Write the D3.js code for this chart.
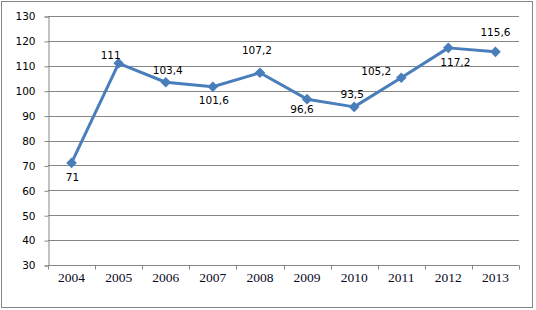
<!DOCTYPE html>
<html>
<head>
<meta charset="utf-8">
<script src="https://cdn.jsdelivr.net/npm/d3@7"></script>
<style>
  body { margin: 0; background: #fff; }
</style>
</head>
<body>
<div id="chart"></div>
<script>
    // Data
    var years = ["2004", "2005", "2006", "2007", "2008", "2009", "2010", "2011", "2012", "2013"];
    var values = [71, 111, 103.4, 101.6, 107.2, 96.6, 93.5, 105.2, 117.2, 115.6];
    var labels = ["71", "111", "103,4", "101,6", "107,2", "96,6", "93,5", "105,2", "117,2", "115,6"];
    var yTicks = [30, 40, 50, 60, 70, 80, 90, 100, 110, 120, 130];

    // label placement relative to the point (dx, dy of text centre)
    var labelOffsets = [[1, 14], [-8, -8], [2, -12], [1, 14], [-3, -22], [-5, 10], [-2, -13], [-25, -6], [7, 14], [0, -20]];

    var width = 536, height = 310;
    var margin = { left: 48, right: 17, top: 16, bottom: 45 };
    var sans = "'DejaVu Sans', Verdana, sans-serif";
    var serif = "'Liberation Serif', 'Times New Roman', serif";

    var svg = d3.select("#chart").append("svg")
        .attr("width", width)
        .attr("height", height);

    // outer frame
    svg.append("rect")
        .attr("x", 1.5).attr("y", 1.5)
        .attr("width", 531).attr("height", 306)
        .attr("fill", "#fff")
        .attr("stroke", "#868686");

    var x = d3.scaleBand()
        .domain(years)
        .range([margin.left, width - margin.right]);
    var y = d3.scaleLinear()
        .domain([30, 130])
        .range([height - margin.bottom, margin.top]);

    // gridlines
    svg.append("g").selectAll("line")
        .data(yTicks)
        .enter().append("line")
        .attr("x1", margin.left).attr("x2", width - margin.right)
        .attr("y1", function(d) { return Math.round(y(d)) + 0.5; })
        .attr("y2", function(d) { return Math.round(y(d)) + 0.5; })
        .attr("stroke", "#868686");

    // y axis
    var yAxis = svg.append("g")
        .attr("transform", "translate(" + (margin.left + 0.5) + ",0.5)")
        .call(d3.axisLeft(y).tickValues(yTicks).tickSize(4).tickPadding(9));
    yAxis.selectAll("path, line").attr("stroke", "#868686");
    yAxis.selectAll("text")
        .attr("font-family", null).attr("font-size", null)
        .style("font-family", sans).style("font-size", "10.5px").style("fill", "#000");

    // x axis, ticks between categories
    var xAxisY = Math.round(y(30)) + 0.5;
    var xg = svg.append("g");
    xg.append("line")
        .attr("x1", margin.left).attr("x2", width - margin.right)
        .attr("y1", xAxisY).attr("y2", xAxisY)
        .attr("stroke", "#868686");
    xg.selectAll(".tk")
        .data(years.concat(["end"]))
        .enter().append("line")
        .attr("class", "tk")
        .attr("x1", function(d, i) { return Math.round(margin.left + i * x.bandwidth()) + 0.5; })
        .attr("x2", function(d, i) { return Math.round(margin.left + i * x.bandwidth()) + 0.5; })
        .attr("y1", xAxisY).attr("y2", xAxisY + 4)
        .attr("stroke", "#868686");
    xg.selectAll("text")
        .data(years)
        .enter().append("text")
        .attr("x", function(d) { return x(d) + x.bandwidth() / 2; })
        .attr("y", xAxisY + 16)
        .attr("text-anchor", "middle")
        .style("font-family", serif)
        .style("font-size", "13.5px")
        .style("fill", "#0a0a28")
        .text(function(d) { return d; });

    // line
    var pts = years.map(function(d, i) { return { year: d, value: values[i], label: labels[i], off: labelOffsets[i] }; });
    var line = d3.line()
        .x(function(d) { return x(d.year) + x.bandwidth() / 2; })
        .y(function(d) { return y(d.value); });

    svg.append("path")
        .datum(pts)
        .attr("d", line)
        .attr("fill", "none")
        .attr("stroke", "#4a7ebb")
        .attr("stroke-width", 3)
        .attr("stroke-linejoin", "round");

    svg.append("g").selectAll("path")
        .data(pts)
        .enter().append("path")
        .attr("d", d3.symbol().type(d3.symbolDiamond2).size(72))
        .attr("transform", function(d) {
            return "translate(" + (x(d.year) + x.bandwidth() / 2) + "," + y(d.value) + ")";
        })
        .attr("fill", "#4a7ebb");

    // data labels
    svg.append("g").selectAll("text")
        .data(pts)
        .enter().append("text")
        .attr("x", function(d) { return x(d.year) + x.bandwidth() / 2 + d.off[0]; })
        .attr("y", function(d) { return y(d.value) + d.off[1]; })
        .attr("dy", "0.35em")
        .attr("text-anchor", "middle")
        .style("font-family", sans)
        .style("font-size", "10.5px")
        .style("fill", "#000")
        .text(function(d) { return d.label; });
</script>
</body>
</html>
